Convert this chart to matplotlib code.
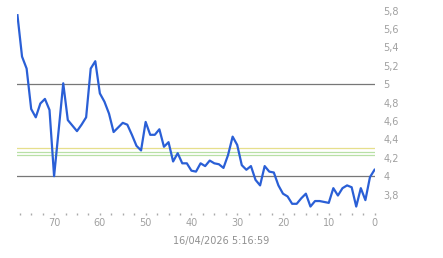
import numpy as np
import matplotlib
matplotlib.use("Agg")
import matplotlib.pyplot as plt
from matplotlib.ticker import MultipleLocator, FuncFormatter

# dias hacia atras (78 ... 0) y valores
dias = list(range(78, -1, -1))
valores = [5.75, 5.30, 5.17, 4.73, 4.64, 4.79, 4.84, 4.72, 4.00, 4.50,
           5.01, 4.61, 4.55, 4.49, 4.56, 4.64, 5.17, 5.25, 4.90, 4.81,
           4.68, 4.48, 4.53, 4.58, 4.56, 4.45, 4.33, 4.28, 4.59, 4.45,
           4.45, 4.51, 4.32, 4.37, 4.16, 4.25, 4.14, 4.14, 4.06, 4.05,
           4.14, 4.11, 4.17, 4.14, 4.13, 4.09, 4.23, 4.43, 4.34, 4.12,
           4.07, 4.11, 3.96, 3.90, 4.11, 4.05, 4.04, 3.90, 3.81, 3.78,
           3.70, 3.70, 3.76, 3.81, 3.67, 3.73, 3.73, 3.72, 3.71, 3.87,
           3.79, 3.87, 3.90, 3.88, 3.67, 3.87, 3.74, 3.99, 4.07]

lineas_grises = [5.0, 4.0]
linea_amarilla = 4.31
lineas_verdes = [4.26, 4.23]
fecha = "16/04/2026 5:16:59"

fig = plt.figure(figsize=(4.43, 2.58), dpi=100)
ax = fig.add_axes([17/443, 1 - 213/258, (375 - 17)/443, 213/258])

for v in lineas_grises:
    ax.axhline(v, color="#777777", lw=0.9, zorder=1)
ax.axhline(linea_amarilla, color="#e6df8c", lw=0.9, zorder=1)
for v in lineas_verdes:
    ax.axhline(v, color="#b8e0a6", lw=0.9, zorder=1)

ax.plot(dias, valores, color="#2a5fd6", lw=1.6, zorder=3)

ax.set_xlim(78.1, -0.1)
ax.set_ylim(3.6, 3.6 + 213/92)

for s in ax.spines.values():
    s.set_visible(False)

ax.xaxis.set_major_locator(MultipleLocator(10))
ax.xaxis.set_minor_locator(MultipleLocator(2.5))
ax.yaxis.set_major_locator(MultipleLocator(0.2))
ax.yaxis.set_major_formatter(FuncFormatter(lambda v, p: ("%g" % round(v, 1)).replace(".", ",")))
ax.yaxis.tick_right()
ax.tick_params(axis="y", length=0, pad=6, labelsize=7, labelcolor="#a0a0a0")
ax.tick_params(axis="x", which="both", length=1.5, width=1, color="#aaaaaa",
               labelsize=7, labelcolor="#a0a0a0", pad=2)
ax.set_yticks([v for v in np.arange(3.8, 5.81, 0.2)])

fig.text(221/443, 1 - 241/258, fecha, ha="center", va="center",
         fontsize=7, color="#909090")

fig.savefig("out.png", dpi=100)
